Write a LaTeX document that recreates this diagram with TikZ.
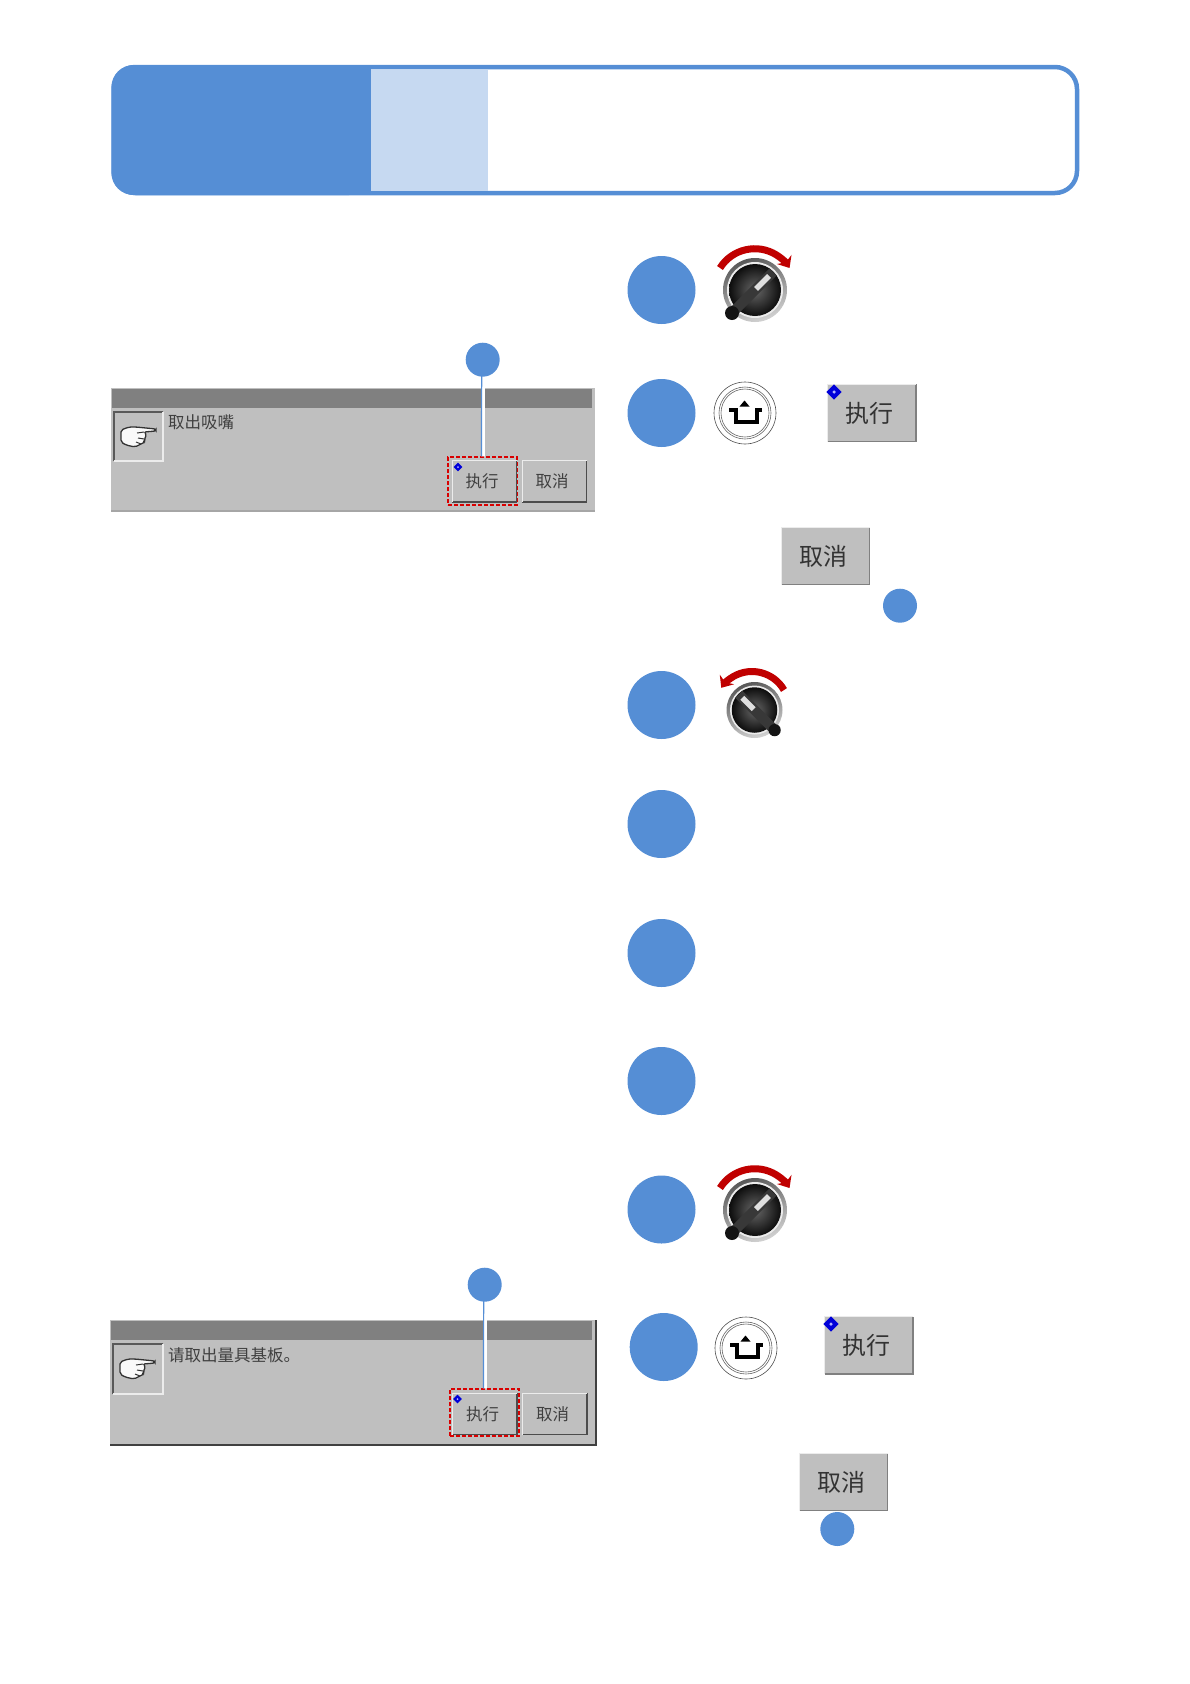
\documentclass[tikz,border=0pt]{standalone}
\usepackage{fontspec}
\usetikzlibrary{arrows.meta}
\newfontfamily\cjk{Noto Sans CJK SC}
\definecolor{hdblue}{HTML}{558ED5}
\definecolor{hdlight}{HTML}{C6D9F1}
\definecolor{panelgrey}{HTML}{BFBFBF}
\definecolor{bargrey}{HTML}{808080}
\definecolor{arcred}{HTML}{C00000}
\tikzset{
    bigdot/.style={circle,fill=hdblue,inner sep=0,minimum size=68pt},
    smalldot/.style={circle,fill=hdblue,inner sep=0,minimum size=34pt},
    panelbtn/.style={fill=panelgrey,inner sep=0,minimum width=64pt,minimum height=41pt,text=black!75,font=\cjk\fontsize{16.5}{16.5}\selectfont},
    bigbtn/.style={fill=panelgrey,inner sep=0,minimum width=88pt,minimum height=57pt,text=black!80,font=\cjk\fontsize{24}{24}\selectfont},
    msgtext/.style={anchor=west,inner sep=0,text=black!75,font=\cjk\fontsize{16.5}{16.5}\selectfont},
    redbox/.style={draw=red!85!black,line width=1.4pt,dash pattern=on 4pt off 2pt,inner sep=0},
}
\newcommand{\btntxt}[1]{\raisebox{1.5pt}{\kern-5pt #1}}
\begin{document}
\begin{tikzpicture}[x=1pt,y=1pt,>=stealth]
    \useasboundingbox (0,0) rectangle (1190,-1684);
    \def\knob(#1,#2,#3,#4){
        \begin{scope}[shift={(#1,#2)},rotate=#3,scale=#4]
            \shade[left color=black!65,right color=gray!35,shading angle=20] (0,0) circle (32);
            \fill[white!85!gray] (0,0) circle (28);
            \shade[inner color=black!60,outer color=black!95] (0,0) circle (26);
            \draw[black!78,line width=10pt] (-20,-20)--(18,18);
            \fill[black!92] (-23,-23) circle (7);
            \draw[white!75!gray,line width=5.5pt] (1,1)--(14,14);
        \end{scope}
    }
    \def\upkey(#1,#2){
        \begin{scope}[shift={(#1,#2)}]
            \draw[black!70,fill=white,line width=.6pt] (0,0) circle (31);
            \draw[black!60,line width=.6pt] (0,0) circle (26);
            \draw[black!60,line width=.6pt] (0,0) circle (24);
            \draw[line width=3.4pt] (-16,3)--(-9,3)--(-9,-9)--(12,-9)--(12,3)--(17,3);
            \fill (-5.5,6.5)--(4.5,6.5)--(-.5,12.5)--cycle;
        \end{scope}
    }
    \def\hand(#1,#2){
        \begin{scope}[shift={(#1,#2)}]
            \draw[black!80,fill=white!95!gray,line width=1.3pt,rounded corners=2pt] (-17,6)--(-9,9)--(-2,9)--(18,7)--(18,5)--(6,4)--(9,1)--(6,-3)--(7,-6)--(3,-8)--(-3,-11)--(-12,-9)--(-17,-6)--cycle;
            \draw[black!80,line width=1pt] (6,4)--(-1,3) (6,-3)--(0,-2) (3,-8)--(-2,-6);
        \end{scope}
    }
    \def\btnmark(#1,#2,#3){
        \begin{scope}[shift={(#1,#2)},scale=#3]
            \fill[blue!85!black,rounded corners=.2pt] (-1.1,0)--(0,1.1)--(1.1,0)--(0,-1.1)--cycle;
            \fill[white!70!blue] (0,0) circle (.25);
        \end{scope}
    }
    %===========================================
    \draw[hdblue,fill=white,line width=4.5pt,rounded corners=22pt] (113.5,-67)--(1077,-67)--(1077,-193)--(113.5,-193)--cycle;
    \fill[hdblue,rounded corners=22pt] (371,-65)--(111.5,-65)--(111.5,-195)--(371,-195)--cycle;
    \fill[hdblue] (360,-65) rectangle (371,-195);
    \fill[hdlight] (371,-70) rectangle (488,-191);
    %===========================================
    \foreach \n/\x/\y in {1/661.5/-290,2/661.5/-413,3/661.5/-705,4/661.5/-824,5/661.5/-953,6/661.5/-1081,7/661.5/-1209.5,8/663.7/-1347}
        \node[bigdot] (step\n) at (\x,\y) {};
    \node[smalldot] (tagB) at (900,-605.7) {};
    \node[smalldot] (tagD) at (837.3,-1529) {};
    %===========================================
    \fill[panelgrey] (111,-388) rectangle (595,-511);
    \draw[black!35,line width=1.5pt] (111,-511)--(595,-511);
    \fill[bargrey] (112,-389) rectangle (592,-408);
    \draw[black!65,line width=1.2pt] (114,-461)--(114,-412)--(163,-412);
    \draw[white!85!gray,line width=1.2pt] (114,-461)--(163,-461)--(163,-412);
    \hand(138,-436)
    \node[msgtext] (msgA) at (168,-422) {取出吸嘴};
    \node[panelbtn] (runA) at (484.5,-481.5) {\btntxt{执行}};
    \node[panelbtn] (stopA) at (554.5,-481.5) {\btntxt{取消}};
    \node[redbox,minimum width=69pt,minimum height=48pt] (redA) at (482.5,-481) {};
    %===========================================
    \fill[panelgrey] (110,-1320) rectangle (596,-1445);
    \draw[black!75,line width=2pt] (596,-1320)--(596,-1445)--(110,-1445);
    \fill[bargrey] (111,-1321) rectangle (592,-1340);
    \draw[black!65,line width=1.2pt] (113,-1394)--(113,-1344)--(163,-1344);
    \draw[white!85!gray,line width=1.2pt] (113,-1394)--(163,-1394)--(163,-1344);
    \hand(137,-1368)
    \node[msgtext] (msgB) at (168,-1355) {请取出量具基板。};
    \node[panelbtn] (runB) at (485,-1414) {\btntxt{执行}};
    \node[panelbtn] (stopB) at (555,-1414) {\btntxt{取消}};
    \node[redbox,minimum width=69pt,minimum height=47pt] (redB) at (484.5,-1412.5) {};
    %===========================================
    \node[bigbtn] (runC) at (872,-413) {\btntxt{执行}};
    \node[bigbtn] (stopC) at (825.5,-556) {\btntxt{取消}};
    \node[bigbtn] (runD) at (869,-1345.5) {\btntxt{执行}};
    \node[bigbtn] (stopD) at (843.5,-1482) {\btntxt{取消}};
    \foreach \b in {runA,stopA,runB,stopB}{
        \draw[black!70,line width=1.5pt] (\b.north east)--(\b.south east)--(\b.south west);
        \draw[white!85!gray,line width=1pt] (\b.south west)--(\b.north west)--(\b.north east);
    }
    \foreach \b in {runC,stopC,runD,stopD}{
        \draw[black!50,line width=1.5pt] (\b.north east)--(\b.south east)--(\b.south west);
        \draw[white!85!gray,line width=1.2pt] (\b.south west)--(\b.north west)--(\b.north east);
    }
    \btnmark(458,-467,4)
    \btnmark(457.5,-1399,4)
    \btnmark(834,-392,7)
    \btnmark(831,-1324,7)
    %===========================================
    \coordinate (tagAc) at (482.7,-359.7);
    \coordinate (tagCc) at (484.7,-1284.7);
    \foreach \t/\r in {tagAc/redA,tagCc/redB}{
        \draw[white,line width=3.5pt] ([xshift=.5pt]\t)--([xshift=.5pt]\r.north);
        \draw[hdblue,line width=1.2pt] ([xshift=-1pt]\t)--([xshift=-1pt]\r.north);
    }
    \node[smalldot] (tagA) at (tagAc) {};
    \node[smalldot] (tagC) at (tagCc) {};
    %===========================================
    \knob(755,-290,0,1)
    \knob(754.5,-710,90,.875)
    \knob(755,-1210,0,1)
    \foreach \y in {-290,-1210}{
        \draw[arcred,line width=7pt,-{Stealth[length=10pt,width=17pt]}] (720,\y+22) arc (148:32:41);
    }
    \draw[arcred,line width=7pt,-{Stealth[length=10pt,width=17pt]}] (784,-690) arc (30:146:37);
    \upkey(745,-413)
    \upkey(746,-1348)
\end{tikzpicture}
\end{document}
